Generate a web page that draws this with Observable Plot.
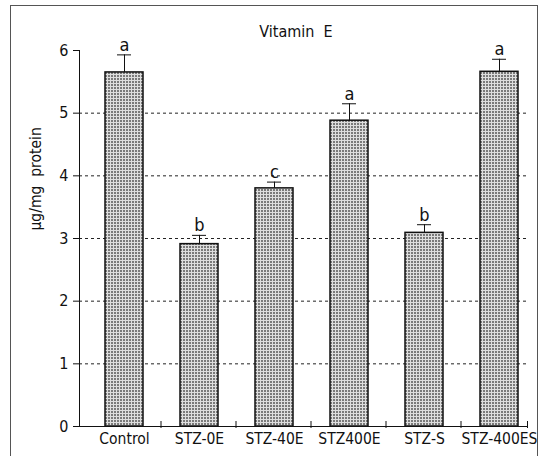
<!DOCTYPE html>
<html>
<head>
<meta charset="utf-8">
<script src="https://cdn.jsdelivr.net/npm/d3@7"></script>
<script src="https://cdn.jsdelivr.net/npm/@observablehq/plot@0.6"></script>
<style>
  html, body { margin: 0; padding: 0; background: #fff; overflow: hidden; }
  #wrap { position: relative; width: 547px; height: 456px; }
  #border { position: absolute; left: 10px; top: 5px; width: 528px; height: 480px; border: 1px solid #555; box-sizing: border-box; pointer-events: none; }
  svg { display: block; }
</style>
</head>
<body>
<div id="wrap"><div id="border"></div></div>
<script>
const categories = ["Control", "STZ-0E", "STZ-40E", "STZ400E", "STZ-S", "STZ-400ES"];
const means = [5.65, 2.91, 3.80, 4.88, 3.09, 5.66];
const errors = [0.28, 0.14, 0.10, 0.27, 0.13, 0.20];
const letters = ["a", "b", "c", "a", "b", "a"];
const yTicks = [0, 1, 2, 3, 4, 5, 6];
const gridTicks = [1, 2, 3, 4, 5];
const title = "Vitamin\u00a0\u00a0E";
const yLabel = "\u03bcg/mg  protein";

const data = categories.map((c, i) => ({cat: c, mean: means[i], se: errors[i], top: means[i] + errors[i], letter: letters[i]}));

const font = "'Liberation Sans Narrow', 'DejaVu Sans Condensed', 'Liberation Sans', sans-serif";

const chart = Plot.plot({
  width: 547,
  height: 456,
  marginLeft: 79,
  marginRight: 19,
  marginTop: 50,
  marginBottom: 30,
  style: {fontFamily: font, color: "#111", background: "transparent"},
  x: {type: "band", domain: categories, range: [84, 539], paddingInner: 0.5, paddingOuter: 0.25, axis: null},
  y: {domain: [0, 6], axis: null},
  marks: [
    Plot.ruleY(gridTicks, {stroke: "#222", strokeWidth: 1, strokeDasharray: "3,3"}),
    Plot.barY(data, {x: "cat", y: "mean", fill: "url(#dots)", stroke: "#111", strokeWidth: 1.5}),
    Plot.ruleX(data, {x: "cat", y1: "mean", y2: "top", stroke: "#111", strokeWidth: 1}),
    Plot.tickY(data, {x: "cat", y: "top", stroke: "#111", strokeWidth: 1, insetLeft: 12, insetRight: 12}),
    Plot.text(data, {x: "cat", y: "top", text: "letter", lineAnchor: "bottom", dy: -4, fontSize: 18, fill: "#111"}),
    Plot.axisY({ticks: yTicks, tickSize: 6, tickPadding: 5, tickFormat: "d", fontSize: 16, label: null, stroke: "#111"}),
    Plot.axisX({ticks: categories, tickSize: 0, tickPadding: 6, fontSize: 15.5, label: null}),
    Plot.frame({anchor: "left", stroke: "#111"}),
    Plot.ruleY([0], {stroke: "#111", strokeWidth: 1}),
    Plot.text([yLabel], {frameAnchor: "left", rotate: -90, dx: -43, dy: -8, fontSize: 15.5, fill: "#111"}),
    Plot.text([title], {frameAnchor: "top", dx: -8, dy: -14, lineAnchor: "bottom", fontSize: 16, fill: "#111"})
  ]
});

// dotted fill pattern for bars
const svg = d3.select(chart);
const defs = svg.insert("defs", ":first-child");
const pat = defs.append("pattern").attr("id", "dots").attr("patternUnits", "userSpaceOnUse").attr("width", 3).attr("height", 3);
pat.append("rect").attr("width", 3).attr("height", 3).attr("fill", "#dedede");
pat.append("rect").attr("x", 0).attr("y", 0).attr("width", 2).attr("height", 2).attr("fill", "#7a7a7a");

// category boundary ticks on the x axis, from the band scale
const xs = chart.scale("x");
const ys = chart.scale("y");
const y0 = ys.apply(0);
const bounds = categories.slice(1).map(c => xs.apply(c) - xs.bandwidth / 2);
bounds.push(xs.apply(categories[categories.length - 1]) + xs.bandwidth + xs.bandwidth / 4);
svg.append("g").attr("stroke", "#111").selectAll("line").data(bounds).join("line")
  .attr("x1", d => d).attr("x2", d => d).attr("y1", y0 - 5).attr("y2", y0 + 2);

document.getElementById("wrap").prepend(chart);
</script>
</body>
</html>
